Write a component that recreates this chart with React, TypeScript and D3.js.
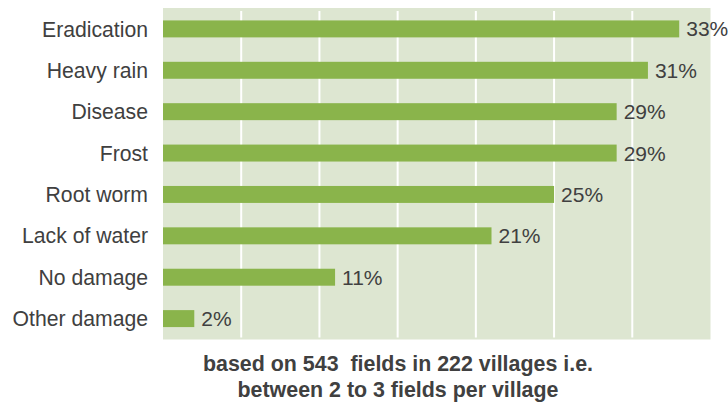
import React from "react";
import * as d3 from "d3";

const categories = ["Eradication", "Heavy rain", "Disease", "Frost", "Root worm", "Lack of water", "No damage", "Other damage"];
const values = [33, 31, 29, 29, 25, 21, 11, 2];
const valueLabels = ["33%", "31%", "29%", "29%", "25%", "21%", "11%", "2%"];
const gridTicks = [5, 10, 15, 20, 25, 30];
const footerLines = ["based on 543\u00a0\u00a0fields in 222 villages i.e.", "between 2 to 3 fields per village"];

const W = 728, H = 405;
const M = { left: 163, right: 710.5, top: 8, bottom: 339.5 };

export default function App() {
  const x = d3.scaleLinear().domain([0, 35]).range([M.left, M.right]);
  const y = d3.scaleBand().domain(categories).range([M.top, M.bottom]).paddingInner(0.59).paddingOuter(0.3);
  const font = "Arial, 'Liberation Sans', sans-serif";
  const textColor = "#404040";
  return (
    <svg width={W} height={H} style={{ position: "absolute", left: 0, top: 0 }} fontFamily={font}>
      <rect x={M.left} y={M.top} width={M.right - M.left} height={M.bottom - M.top} fill="#dde6d1" />
      {gridTicks.map((t) => (
        <line key={t} x1={x(t)} x2={x(t)} y1={M.top + 3} y2={M.bottom - 2} stroke="#ffffff" strokeWidth={2} />
      ))}
      {categories.map((c, i) => {
        const by = y(c)!;
        const bh = y.bandwidth();
        return (
          <g key={c}>
            <rect x={x(0)} y={by} width={x(values[i]) - x(0)} height={bh} fill="#8ab44b" />
            <text x={148} y={by + bh / 2} dy="0.36em" textAnchor="end" fontSize={21.2} fill={textColor}>{c}</text>
            <text x={x(values[i]) + 7} y={by + bh / 2} dy="0.36em" textAnchor="start" fontSize={21} fill={textColor}>{valueLabels[i]}</text>
          </g>
        );
      })}
      {footerLines.map((l, i) => (
        <text key={i} x={398} y={371 + i * 26} textAnchor="middle" fontSize={21.4} fontWeight="bold" fill={textColor}>{l}</text>
      ))}
    </svg>
  );
}
